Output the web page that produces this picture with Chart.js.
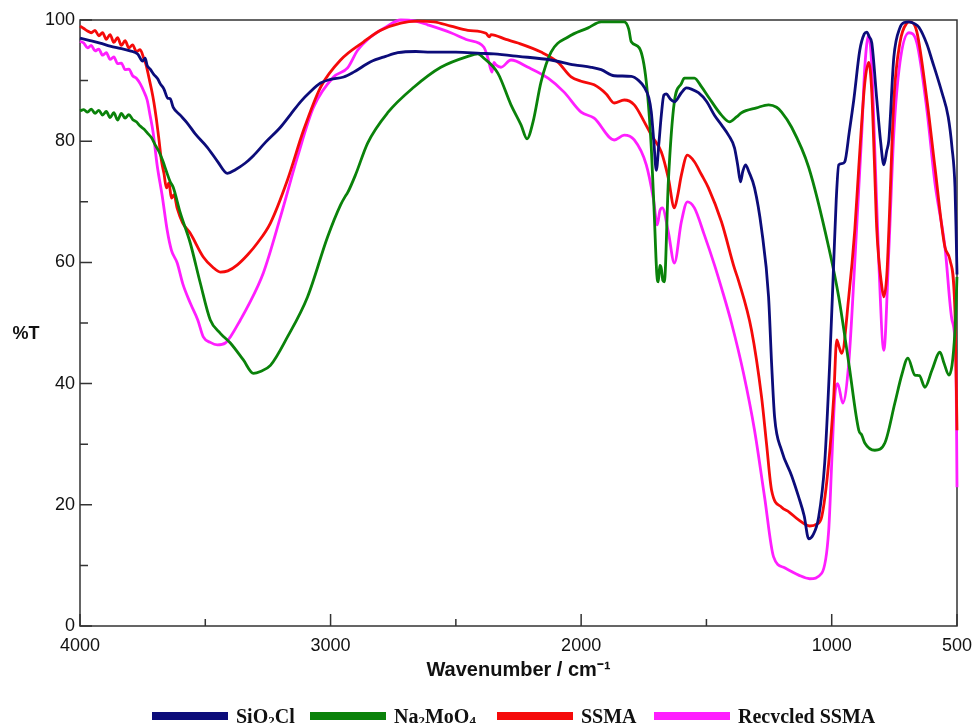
<!DOCTYPE html>
<html>
<head>
<meta charset="utf-8">
<script src="https://cdn.jsdelivr.net/npm/chart.js@4.4.1/dist/chart.umd.min.js"></script>
<style>
  html, body { margin: 0; padding: 0; background: #fff; overflow: hidden; }
  #wrap { width: 974px; height: 723px; position: relative; }
  #legenda { position: absolute; left: 0; top: 706px; width: 974px; height: 20px; }
  #legenda .item { position: absolute; top: 0; height: 20px; display: flex; align-items: center; white-space: nowrap; }
  #legenda .sw { display: inline-block; width: 76px; height: 8px; }
  #legenda .tx { margin-left: 8px; font: bold 20px/20px 'Liberation Serif', 'Times New Roman', serif; color: #111; }
  #legenda sub { font-size: 13px; vertical-align: -2px; line-height: 0; }
</style>
</head>
<body>
<div id="wrap"><canvas id="graficoIR"></canvas><div id="legenda"></div></div>
<script>
// Espectros FTIR (%T em funcao do numero de onda)
const xTicks = [4000, 3000, 2000, 1000, 500];
const xMinorTicks = [3500, 2500, 1500];
const yTicks = [0, 20, 40, 60, 80, 100];
const yMinorTicks = [10, 30, 50, 70, 90];

const seriesNames = ['SiO₂Cl', 'Na₂MoO₄', 'SSMA', 'Recycled SSMA'];
const seriesColors = ['#0c0c7a', '#0a820a', '#f50a0a', '#ff1eff'];

const sio2clWn = [4000, 3960, 3920, 3880, 3840, 3800, 3770, 3750, 3740, 3732, 3720, 3705, 3690, 3680, 3665, 3650, 3640, 3628, 3600, 3572, 3540, 3492, 3450, 3412, 3380, 3340, 3308, 3260, 3200, 3160, 3120, 3080, 3040, 3000, 2948, 2908, 2840, 2780, 2732, 2660, 2600, 2500, 2400, 2348, 2250, 2120, 2028, 1960, 1920, 1868, 1800, 1770, 1748, 1730, 1720, 1710, 1700, 1690, 1680, 1670, 1660, 1645, 1628, 1600, 1580, 1560, 1532, 1500, 1468, 1440, 1412, 1388, 1375, 1364, 1355, 1344, 1330, 1308, 1280, 1252, 1240, 1228, 1200, 1160, 1132, 1110, 1092, 1075, 1052, 1028, 1008, 992, 982, 972, 960, 948, 930, 912, 888, 870, 860, 850, 840, 820, 805, 792, 780, 772, 752, 728, 710, 692, 670, 652, 620, 600, 560, 535, 520, 508, 503, 500];
const sio2clT = [97.0, 96.6, 96.2, 95.7, 95.3, 94.9, 94.4, 93.2, 93.7, 92.5, 91.9, 91.0, 90.3, 89.5, 88.6, 87.1, 87.0, 85.6, 84.3, 83.0, 81.2, 79.0, 76.6, 74.7, 75.3, 76.4, 77.6, 79.8, 82.3, 84.4, 86.5, 88.2, 89.6, 90.2, 90.6, 91.4, 93.1, 94.0, 94.6, 94.8, 94.7, 94.7, 94.5, 94.4, 94.0, 93.4, 92.6, 92.2, 91.8, 90.8, 90.7, 90.0, 88.9, 87.2, 84.8, 80.0, 75.2, 79.5, 84.3, 87.6, 87.8, 87.0, 86.5, 88.0, 88.8, 88.6, 88.0, 86.6, 84.3, 82.7, 81.0, 78.9, 76.0, 73.3, 75.0, 76.1, 74.9, 72.3, 65.5, 54.3, 43.4, 34.5, 29.0, 24.8, 21.3, 18.2, 14.4, 15.0, 18.0, 26.9, 43.4, 60.0, 70.3, 76.1, 76.3, 76.6, 81.5, 86.8, 95.0, 97.7, 98.0, 97.2, 96.2, 86.8, 80.0, 76.1, 78.5, 80.2, 93.9, 98.7, 99.6, 99.7, 99.4, 98.8, 96.0, 93.4, 88.0, 84.0, 79.0, 72.4, 64.0, 58.0];

const na2moo4Wn = [4000, 3985, 3970, 3955, 3940, 3925, 3910, 3895, 3880, 3865, 3850, 3835, 3820, 3805, 3790, 3775, 3760, 3745, 3730, 3715, 3700, 3685, 3670, 3655, 3640, 3628, 3600, 3560, 3520, 3480, 3440, 3400, 3348, 3308, 3280, 3240, 3172, 3092, 3012, 2960, 2940, 2932, 2900, 2852, 2772, 2668, 2560, 2452, 2412, 2388, 2332, 2280, 2240, 2216, 2192, 2160, 2120, 2052, 1972, 1920, 1828, 1810, 1800, 1768, 1740, 1720, 1708, 1698, 1692, 1686, 1680, 1674, 1668, 1652, 1628, 1600, 1588, 1548, 1520, 1492, 1440, 1408, 1380, 1360, 1300, 1252, 1220, 1200, 1160, 1092, 1012, 972, 932, 892, 880, 868, 828, 788, 748, 720, 696, 668, 650, 628, 600, 568, 552, 532, 508, 500];
const na2moo4T = [85.0, 85.2, 84.8, 85.3, 84.6, 85.1, 84.3, 84.9, 83.9, 84.7, 83.5, 84.6, 83.8, 84.4, 83.6, 83.2, 82.5, 82.0, 81.3, 80.6, 79.4, 78.3, 76.8, 75.0, 73.3, 72.4, 68.2, 63.2, 56.6, 50.5, 48.3, 46.7, 43.9, 41.7, 42.0, 43.0, 47.7, 54.3, 64.2, 69.5, 71.0, 71.5, 74.5, 79.7, 84.7, 88.9, 92.2, 94.0, 94.4, 93.7, 91.2, 86.0, 82.7, 80.4, 83.2, 89.8, 94.7, 97.2, 98.7, 99.7, 99.7, 98.5, 96.4, 95.4, 89.8, 78.9, 67.8, 58.0, 56.8, 59.5, 59.0, 57.0, 56.8, 73.3, 86.5, 89.5, 90.4, 90.4, 89.0, 87.3, 84.3, 83.2, 84.0, 84.7, 85.5, 86.0, 85.6, 84.8, 82.3, 75.7, 62.5, 54.3, 43.4, 32.3, 31.5, 30.2, 29.0, 30.2, 36.8, 41.5, 44.2, 41.4, 41.3, 39.4, 42.2, 45.2, 43.4, 41.4, 48.8, 57.6];

const ssmaWn = [4000, 3985, 3970, 3955, 3940, 3925, 3910, 3895, 3880, 3865, 3850, 3835, 3820, 3805, 3790, 3775, 3760, 3745, 3735, 3725, 3715, 3705, 3695, 3685, 3675, 3665, 3655, 3645, 3635, 3625, 3612, 3590, 3560, 3508, 3470, 3440, 3410, 3372, 3330, 3292, 3240, 3172, 3108, 3040, 2960, 2868, 2800, 2720, 2650, 2588, 2520, 2452, 2380, 2366, 2360, 2300, 2252, 2160, 2092, 2040, 2000, 1948, 1900, 1868, 1828, 1788, 1748, 1720, 1680, 1652, 1628, 1615, 1600, 1576, 1548, 1520, 1492, 1440, 1388, 1372, 1320, 1280, 1260, 1240, 1200, 1170, 1132, 1088, 1060, 1040, 1012, 992, 980, 970, 960, 932, 908, 892, 868, 852, 840, 830, 820, 800, 792, 780, 772, 752, 728, 700, 690, 660, 620, 588, 548, 528, 508, 500];
const ssmaT = [99.0, 98.6, 98.2, 97.9, 98.3, 97.4, 97.9, 96.8, 97.6, 96.3, 97.1, 95.8, 96.6, 95.4, 95.9, 94.8, 95.1, 93.6, 92.4, 90.5, 88.6, 86.4, 83.6, 80.3, 76.8, 74.7, 72.3, 73.1, 70.6, 71.2, 68.9, 66.5, 64.8, 60.9, 59.2, 58.4, 58.6, 59.6, 61.3, 63.2, 66.5, 73.6, 81.8, 88.9, 93.4, 96.4, 98.3, 99.5, 99.8, 99.7, 99.0, 98.3, 97.8, 97.2, 97.6, 96.8, 96.2, 94.7, 93.0, 90.6, 89.9, 89.3, 87.8, 86.3, 86.8, 86.0, 83.2, 81.0, 78.2, 73.9, 69.0, 71.0, 74.4, 77.7, 76.6, 74.5, 72.3, 66.7, 59.0, 57.0, 48.8, 37.8, 30.0, 22.4, 19.6, 18.8, 17.5, 16.5, 16.8, 18.0, 26.9, 37.8, 47.2, 46.0, 45.0, 54.3, 65.3, 75.7, 89.6, 93.0, 88.0, 77.0, 65.3, 56.0, 54.3, 58.0, 65.3, 86.8, 96.2, 99.5, 99.7, 98.0, 86.8, 75.7, 62.5, 60.4, 51.6, 32.3];

const recycledWn = [4000, 3985, 3970, 3955, 3940, 3925, 3910, 3895, 3880, 3865, 3850, 3835, 3820, 3805, 3790, 3775, 3760, 3745, 3732, 3720, 3708, 3692, 3672, 3652, 3635, 3612, 3590, 3560, 3530, 3508, 3480, 3452, 3420, 3400, 3360, 3332, 3268, 3200, 3132, 3068, 2988, 2932, 2892, 2840, 2780, 2720, 2660, 2612, 2520, 2452, 2388, 2372, 2356, 2348, 2340, 2320, 2280, 2212, 2132, 2068, 2000, 1948, 1868, 1828, 1788, 1740, 1712, 1696, 1686, 1676, 1652, 1628, 1600, 1576, 1548, 1508, 1468, 1440, 1400, 1352, 1308, 1268, 1232, 1188, 1132, 1088, 1040, 1012, 1000, 988, 976, 956, 932, 908, 880, 868, 852, 840, 828, 812, 792, 772, 752, 728, 692, 660, 620, 588, 548, 520, 504, 500];
const recycledT = [96.5, 96.2, 95.4, 95.8, 94.9, 95.2, 94.2, 94.6, 93.5, 93.9, 92.8, 92.9, 91.8, 91.9, 90.8, 90.4, 89.5, 88.2, 86.8, 84.2, 81.4, 76.0, 71.0, 65.3, 62.0, 59.9, 56.5, 53.3, 50.5, 47.7, 46.8, 46.4, 46.7, 47.7, 50.5, 52.6, 58.3, 67.5, 77.4, 85.6, 90.6, 92.1, 95.0, 97.2, 98.8, 100.0, 99.8, 99.2, 97.9, 96.7, 95.5, 93.7, 91.4, 93.0, 92.6, 92.2, 93.4, 92.2, 90.4, 88.1, 84.8, 83.8, 80.2, 81.0, 80.2, 76.1, 70.6, 66.2, 68.5, 69.0, 65.0, 59.9, 66.7, 70.0, 69.0, 64.5, 59.6, 55.8, 50.0, 41.7, 32.3, 21.3, 11.4, 9.6, 8.4, 7.8, 8.7, 15.8, 26.9, 37.8, 40.0, 36.8, 43.4, 60.0, 81.4, 92.2, 97.5, 92.2, 78.5, 60.0, 45.5, 62.0, 81.4, 92.9, 97.9, 96.2, 85.1, 73.1, 62.5, 50.5, 43.4, 22.9];

const seriesWn = [sio2clWn, na2moo4Wn, ssmaWn, recycledWn];
const seriesT = [sio2clT, na2moo4T, ssmaT, recycledT];

const fonteEixo = "'Liberation Sans', Arial, sans-serif";

// moldura, marcas internas dos eixos e rotulo %T
const molduraPlugin = {
    id: 'moldura',
    beforeDatasetsDraw(chart) {
        const { ctx, chartArea: a, scales: { x, y } } = chart;
        ctx.save();
        ctx.strokeStyle = '#333';
        ctx.lineWidth = 1.5;
        ctx.strokeRect(a.left, a.top, a.right - a.left, a.bottom - a.top);
        ctx.beginPath();
        yTicks.forEach(v => { const py = y.getPixelForValue(v); ctx.moveTo(a.left, py); ctx.lineTo(a.left + 12, py); });
        yMinorTicks.forEach(v => { const py = y.getPixelForValue(v); ctx.moveTo(a.left, py); ctx.lineTo(a.left + 8, py); });
        xTicks.forEach(v => { const px = x.getPixelForValue(v); ctx.moveTo(px, a.bottom); ctx.lineTo(px, a.bottom - 12); });
        xMinorTicks.forEach(v => { const px = x.getPixelForValue(v); ctx.moveTo(px, a.bottom); ctx.lineTo(px, a.bottom - 7); });
        ctx.stroke();
        ctx.fillStyle = '#111';
        ctx.font = 'bold 18px ' + fonteEixo;
        ctx.textAlign = 'center';
        ctx.textBaseline = 'middle';
        ctx.fillText('%T', 26, 334);
        ctx.restore();
    }
};

const ctxIR = document.getElementById('graficoIR').getContext('2d');
const graficoIR = new Chart(ctxIR, {
    type: 'line',
    data: {
        datasets: seriesNames.map((nome, i) => ({
            label: nome,
            data: seriesWn[i].map((wn, j) => ({ x: wn, y: seriesT[i][j] })),
            borderColor: seriesColors[i],
            backgroundColor: seriesColors[i],
            borderWidth: 2.8,
            pointRadius: 0,
            cubicInterpolationMode: 'monotone',
            clip: 6
        }))
    },
    options: {
        responsive: true,
        maintainAspectRatio: false,
        animation: false,
        layout: { padding: { top: 20, right: 17, left: 0, bottom: 27 } },
        scales: {
            x: {
                type: 'linear',
                reverse: true,
                min: 500,
                max: 4000,
                grid: { display: false, drawTicks: false },
                border: { display: false },
                afterBuildTicks: s => { s.ticks = xTicks.map(v => ({ value: v })); },
                afterFit: s => { s.height = 70; s.paddingLeft = 0; s.paddingRight = 0; },
                ticks: {
                    color: '#111',
                    padding: 9,
                    maxRotation: 0,
                    autoSkip: false,
                    callback: v => String(v),
                    font: { family: fonteEixo, size: 18 }
                },
                title: {
                    display: true,
                    text: 'Wavenumber / cm⁻¹',
                    color: '#111',
                    padding: { top: 0, bottom: 14 },
                    font: { family: fonteEixo, size: 20, weight: 'bold' }
                }
            },
            y: {
                min: 0,
                max: 100,
                grid: { display: false, drawTicks: false },
                border: { display: false },
                afterBuildTicks: s => { s.ticks = yTicks.map(v => ({ value: v })); },
                afterFit: s => { s.width = 80; s.paddingTop = 0; s.paddingBottom = 0; },
                ticks: {
                    color: '#111',
                    padding: 5,
                    callback: v => String(v),
                    font: { family: fonteEixo, size: 18 }
                }
            }
        },
        plugins: {
            legend: { display: false },
            tooltip: { enabled: false }
        }
    },
    plugins: [molduraPlugin]
});

// legenda em HTML (com subscritos reais)
const legendaLeft = [152, 310, 497, 654];
const legenda = document.getElementById('legenda');
seriesNames.forEach((nome, i) => {
    const item = document.createElement('div');
    item.className = 'item';
    item.style.left = legendaLeft[i] + 'px';
    const sw = document.createElement('span');
    sw.className = 'sw';
    sw.style.background = seriesColors[i];
    const tx = document.createElement('span');
    tx.className = 'tx';
    tx.innerHTML = nome.replace(/[\u2080-\u2089]/g, c => '<sub>' + (c.charCodeAt(0) - 0x2080) + '</sub>');
    item.appendChild(sw);
    item.appendChild(tx);
    legenda.appendChild(item);
});
</script>
</body>
</html>
